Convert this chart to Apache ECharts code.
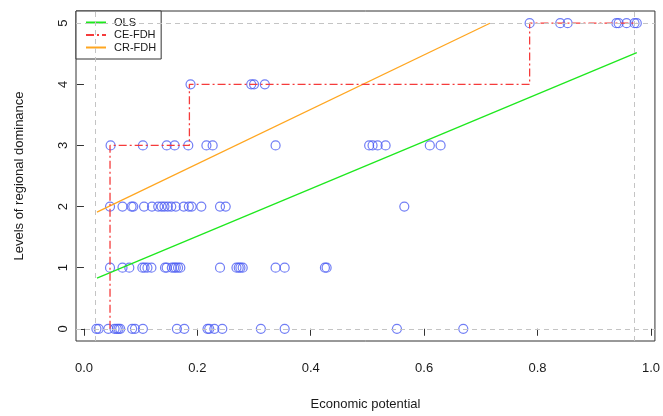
<!DOCTYPE html>
<html>
<head>
<meta charset="utf-8">
<title>Economic potential vs. regional dominance</title>
<script src="https://cdn.jsdelivr.net/npm/echarts@6/dist/echarts.min.js"></script>
<style>
  html, body { margin: 0; padding: 0; background: #fff; }
  #chart { width: 663px; height: 416px; }
</style>
</head>
<body>
<div id="chart"></div>
<script>
// Economic potential of each region, grouped by its level of regional dominance
const level0 = [0.022, 0.026, 0.043, 0.054, 0.058, 0.061, 0.064, 0.085, 0.090, 0.104,
                0.164, 0.177, 0.218, 0.221, 0.230, 0.244, 0.312, 0.354, 0.552, 0.669];
const level1 = [0.046, 0.068, 0.080, 0.103, 0.107, 0.112, 0.119, 0.143, 0.146, 0.155,
                0.159, 0.162, 0.166, 0.170, 0.240, 0.269, 0.273, 0.276, 0.280, 0.338,
                0.354, 0.425, 0.428];
const level2 = [0.046, 0.068, 0.084, 0.087, 0.106, 0.120, 0.131, 0.137, 0.142, 0.148,
                0.154, 0.162, 0.176, 0.185, 0.190, 0.207, 0.240, 0.250, 0.565];
const level3 = [0.047, 0.104, 0.146, 0.160, 0.184, 0.216, 0.227, 0.338, 0.503, 0.509,
                0.518, 0.532, 0.610, 0.629];
const level4 = [0.188, 0.295, 0.300, 0.319];
const level5 = [0.786, 0.840, 0.853, 0.939, 0.943, 0.957, 0.971, 0.975];
const levels = [level0, level1, level2, level3, level4, level5];

// Fitted lines: [economic potential, dominance level]
const olsLine = [[0.023, 0.83], [0.975, 4.52]];
const crFdhLine = [[0.023, 1.91], [0.716, 5.0]];
const ceFdhSteps = [[0.046, 0], [0.046, 3], [0.186, 3], [0.186, 4],
                    [0.786, 4], [0.786, 5], [0.975, 5]];

const xTicks = [0, 0.2, 0.4, 0.6, 0.8, 1.0];
const yTicks = [0, 1, 2, 3, 4, 5];

const points = [];
levels.forEach((xs, lvl) => xs.forEach(x => points.push([x, lvl])));
const allX = points.map(p => p[0]);
const xMin = Math.min(...allX);
const xMax = Math.max(...allX);

const FONT = '"Liberation Sans", Arial, Helvetica, sans-serif';
const TEXT = '#1a1a1a';

const chart = echarts.init(document.getElementById('chart'), null, { renderer: 'canvas' });

chart.setOption({
  animation: false,
  backgroundColor: '#fff',
  textStyle: { fontFamily: FONT },
  grid: {
    left: 76, right: 5, top: 11, bottom: 75,
    show: true, borderColor: '#333', borderWidth: 1, backgroundColor: 'transparent'
  },
  legend: {
    left: 76, top: 11,
    orient: 'vertical',
    backgroundColor: '#fff',
    borderColor: '#333', borderWidth: 1, borderRadius: 0,
    padding: [6, 5, 6, 9],
    itemWidth: 20, itemHeight: 11, itemGap: 1.5,
    itemStyle: { opacity: 0 },
    textStyle: { fontFamily: FONT, fontSize: 11, color: TEXT, padding: [0, 0, 0, 3] },
    data: ['OLS', 'CE-FDH', 'CR-FDH']
  },
  xAxis: {
    type: 'value',
    min: -0.014, max: 1.007,
    name: 'Economic potential',
    nameLocation: 'middle',
    nameGap: 57,
    nameTextStyle: { fontFamily: FONT, fontSize: 13, color: TEXT },
    axisLine: { show: false },
    axisTick: {
      show: true, inside: false, length: 7,
      customValues: xTicks,
      lineStyle: { color: '#333', width: 1 }
    },
    axisLabel: {
      customValues: xTicks,
      margin: 21,
      fontFamily: FONT, fontSize: 13, color: TEXT,
      formatter: v => v.toFixed(1)
    },
    splitLine: { show: false }
  },
  yAxis: {
    type: 'value',
    min: -0.2, max: 5.2,
    name: 'Levels of regional dominance',
    nameLocation: 'middle',
    nameRotate: 90,
    nameGap: 50,
    nameTextStyle: { fontFamily: FONT, fontSize: 13, color: TEXT },
    axisLine: { show: false },
    axisTick: {
      show: true, inside: false, length: 7,
      customValues: yTicks,
      lineStyle: { color: '#333', width: 1 }
    },
    axisLabel: {
      customValues: yTicks,
      rotate: 90,
      margin: 6,
      fontFamily: FONT, fontSize: 13, color: TEXT
    },
    splitLine: { show: false }
  },
  series: [
    {
      name: 'points',
      type: 'scatter',
      data: points,
      symbol: 'circle',
      symbolSize: 9,
      itemStyle: { color: 'rgba(0,0,0,0)', borderColor: '#4e5ef2', borderWidth: 1.2 },
      z: 2,
      markLine: {
        silent: true,
        symbol: 'none',
        label: { show: false },
        lineStyle: { color: '#c4c4c4', type: [5, 4], width: 1 },
        data: [{ yAxis: 0 }, { yAxis: 5 }, { xAxis: xMin }, { xAxis: xMax }]
      }
    },
    {
      name: 'OLS',
      type: 'line',
      data: olsLine,
      symbol: 'none',
      lineStyle: { color: '#1ee81e', width: 1.3 },
      itemStyle: { color: '#1ee81e' },
      z: 3
    },
    {
      name: 'CE-FDH',
      type: 'line',
      data: ceFdhSteps,
      symbol: 'none',
      lineStyle: { color: '#f53b3b', width: 1.3, type: [8, 3, 2, 3] },
      itemStyle: { color: '#f53b3b' },
      z: 4
    },
    {
      name: 'CR-FDH',
      type: 'line',
      data: crFdhLine,
      symbol: 'none',
      lineStyle: { color: '#ffa620', width: 1.3 },
      itemStyle: { color: '#ffa620' },
      z: 3
    }
  ]
});
</script>
</body>
</html>
